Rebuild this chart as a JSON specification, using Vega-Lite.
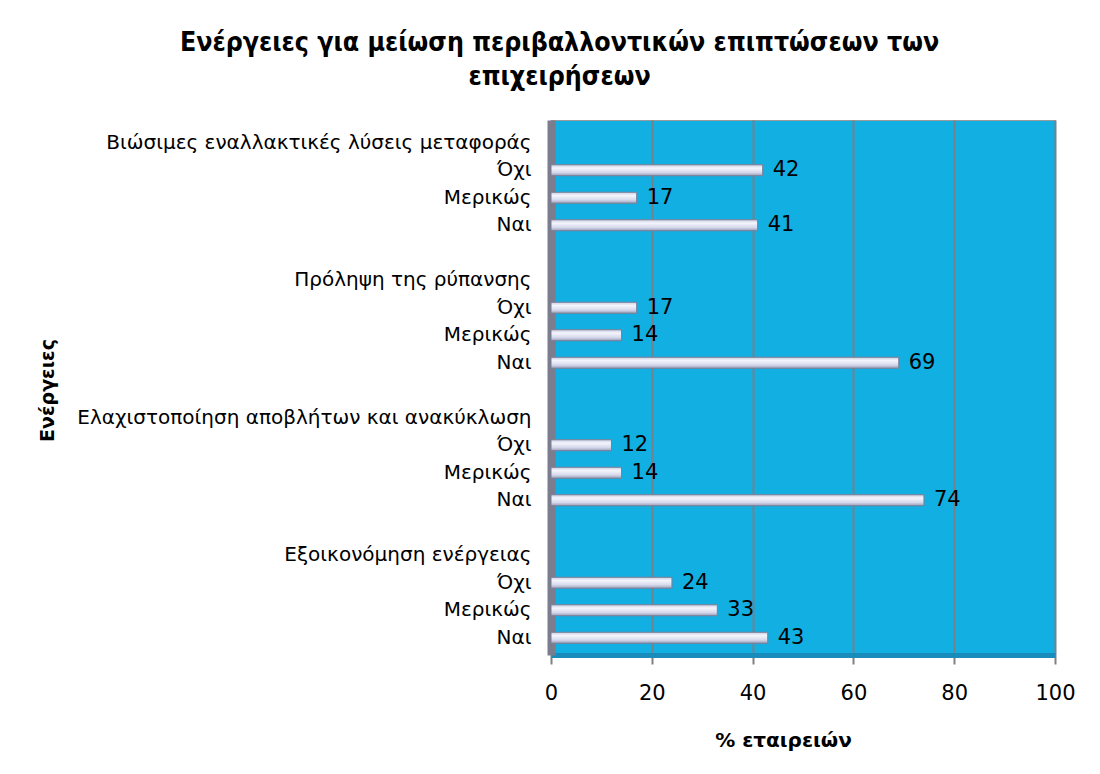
{
  "$schema": "https://vega.github.io/schema/vega-lite/v6.json",
  "autosize": {"type": "none"},
  "padding": {"left": 551, "top": 120, "right": 45, "bottom": 119},
  "width": 504,
  "height": 535,
  "background": "white",
  "title": {
    "text": ["Ενέργειες για μείωση περιβαλλοντικών επιπτώσεων των", "επιχειρήσεων"],
    "font": "DejaVu Sans Condensed",
    "fontSize": 26.5,
    "fontWeight": "bold",
    "color": "black",
    "lineHeight": 34,
    "anchor": "middle",
    "frame": "bounds",
    "offset": 30,
    "dx": 3
  },
  "data": {
    "values": [
      {"key": "Βιώσιμες εναλλακτικές λύσεις μεταφοράς|h1", "value": null},
      {"key": "Όχι|1", "value": 42},
      {"key": "Μερικώς|1", "value": 17},
      {"key": "Ναι|1", "value": 41},
      {"key": "|b1", "value": null},
      {"key": "Πρόληψη της ρύπανσης|h2", "value": null},
      {"key": "Όχι|2", "value": 17},
      {"key": "Μερικώς|2", "value": 14},
      {"key": "Ναι|2", "value": 69},
      {"key": "|b2", "value": null},
      {"key": "Ελαχιστοποίηση αποβλήτων και ανακύκλωση|h3", "value": null},
      {"key": "Όχι|3", "value": 12},
      {"key": "Μερικώς|3", "value": 14},
      {"key": "Ναι|3", "value": 74},
      {"key": "|b3", "value": null},
      {"key": "Εξοικονόμηση ενέργειας|h4", "value": null},
      {"key": "Όχι|4", "value": 24},
      {"key": "Μερικώς|4", "value": 33},
      {"key": "Ναι|4", "value": 43}
    ]
  },
  "encoding": {
    "y": {
      "field": "key",
      "type": "nominal",
      "sort": null,
      "scale": {
        "domain": [
          "Βιώσιμες εναλλακτικές λύσεις μεταφοράς|h1", "Όχι|1", "Μερικώς|1", "Ναι|1", "|b1",
          "Πρόληψη της ρύπανσης|h2", "Όχι|2", "Μερικώς|2", "Ναι|2", "|b2",
          "Ελαχιστοποίηση αποβλήτων και ανακύκλωση|h3", "Όχι|3", "Μερικώς|3", "Ναι|3", "|b3",
          "Εξοικονόμηση ενέργειας|h4", "Όχι|4", "Μερικώς|4", "Ναι|4"
        ],
        "paddingInner": 0,
        "paddingOuter": 0.227,
        "align": 0.72
      },
      "axis": {
        "title": "Ενέργειες",
        "titleFont": "DejaVu Sans",
        "titleFontSize": 19,
        "titleFontWeight": "bold",
        "titleColor": "black",
        "titleX": -494,
        "titleY": 270,
        "titleAngle": -90,
        "titleAlign": "center",
        "titleBaseline": "bottom",
        "labelExpr": "split(datum.value, '|')[0]",
        "labelFont": "DejaVu Sans",
        "labelFontSize": 20,
        "labelColor": "black",
        "labelLimit": 0,
        "labelPadding": 20,
        "ticks": false,
        "domainColor": "#7b7d8e",
        "domainWidth": 8,
        "grid": false
      }
    }
  },
  "layer": [
    {
      "mark": {
        "type": "bar",
        "size": 11,
        "stroke": "#7a7e96",
        "strokeWidth": 1,
        "fill": {
          "gradient": "linear",
          "x1": 0, "y1": 0, "x2": 0, "y2": 1,
          "stops": [
            {"offset": 0, "color": "#c8cce0"},
            {"offset": 0.3, "color": "#f4f5fc"},
            {"offset": 0.7, "color": "#d6d9ec"},
            {"offset": 1, "color": "#9a9eb8"}
          ]
        }
      },
      "encoding": {
        "x": {
          "field": "value",
          "type": "quantitative",
          "scale": {"domain": [0, 100]},
          "axis": {
            "title": "% εταιρειών",
            "titleFont": "DejaVu Sans",
            "titleFontSize": 20,
            "titleFontWeight": "bold",
            "titleColor": "black",
            "titleX": 232,
            "titleY": 85,
            "titleBaseline": "middle",
            "values": [0, 20, 40, 60, 80, 100],
            "labelFlush": false,
            "labelFont": "DejaVu Sans",
            "labelFontSize": 21,
            "labelColor": "black",
            "labelPadding": 18,
            "tickColor": "#808080",
            "tickSize": 9,
            "tickWidth": 2,
            "domainColor": "#1a8cbc",
            "domainWidth": 5,
            "gridColor": "#75828c",
            "gridWidth": 2,
            "gridOpacity": 1
          }
        }
      }
    },
    {
      "mark": {
        "type": "text",
        "align": "left",
        "baseline": "middle",
        "dx": 10,
        "font": "DejaVu Sans",
        "fontSize": 21,
        "color": "black"
      },
      "encoding": {
        "x": {"field": "value", "type": "quantitative"},
        "text": {"field": "value", "type": "quantitative"}
      }
    }
  ],
  "config": {
    "view": {"fill": "#12afe3", "stroke": "#9a9a9a", "strokeWidth": 1}
  }
}
